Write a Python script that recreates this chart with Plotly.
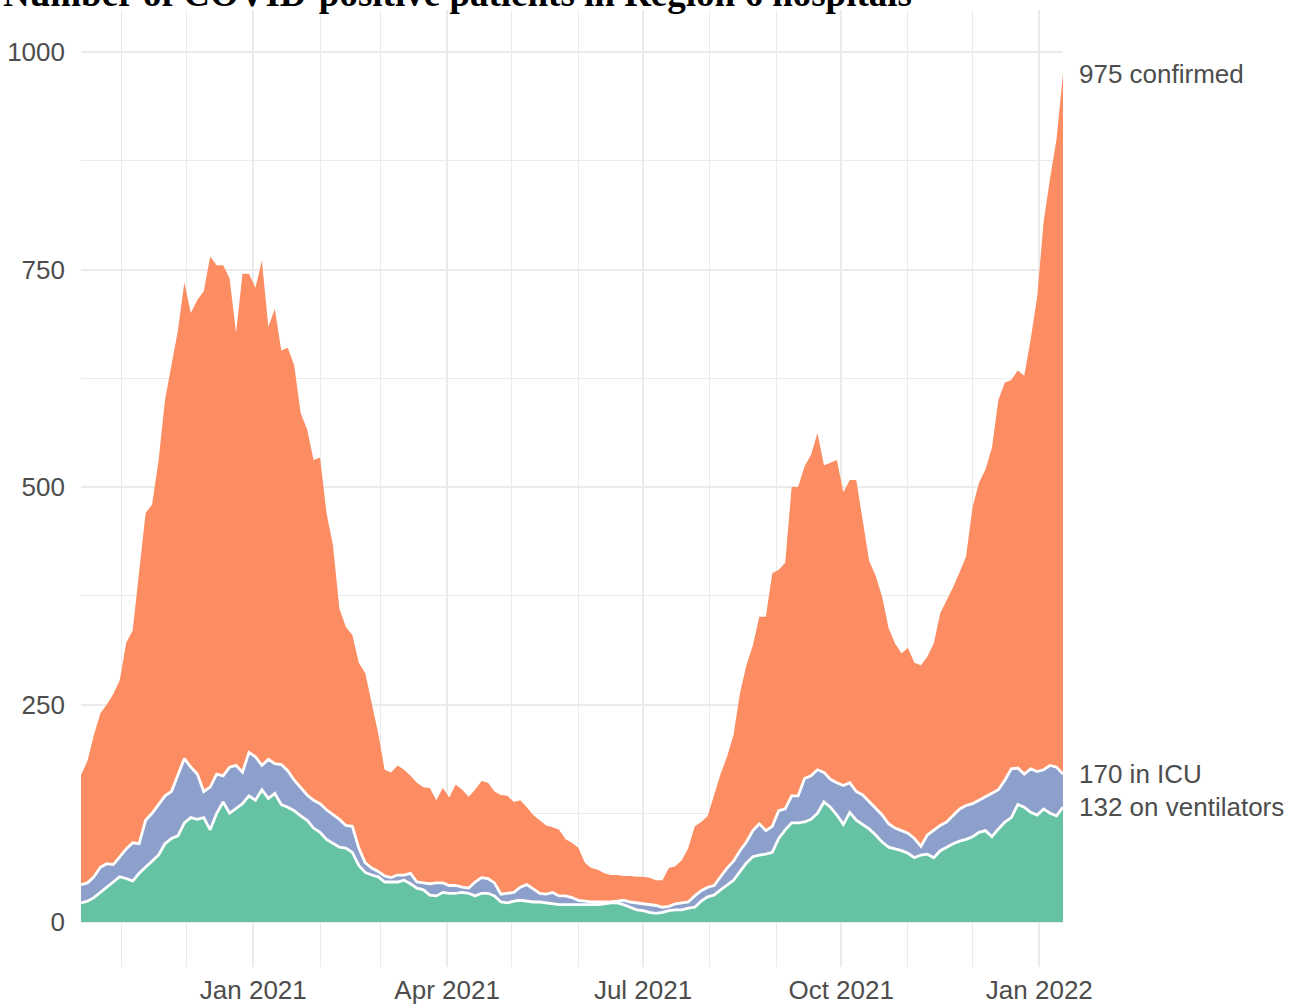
import pandas as pd
import plotly.graph_objects as go

# ---- data (every 3 days) ----
start_date = "2020-10-13"
step_days = 3

confirmed = [169, 185, 215, 240, 250, 262, 278, 321, 335, 400,
             470, 480, 530, 600, 642, 680, 735, 700, 715, 725,
             765, 755, 755, 740, 677, 745, 745, 729, 760, 684,
             705, 657, 660, 640, 585, 566, 531, 534, 470, 433,
             360, 339, 330, 298, 286, 250, 217, 175, 172, 180,
             175, 168, 160, 155, 154, 140, 154, 143, 158, 152,
             144, 152, 162, 160, 150, 146, 145, 138, 140, 132,
             123, 117, 111, 109, 106, 95, 91, 85, 68, 62,
             60, 56, 54, 54, 53, 53, 52, 52, 51, 48,
             48, 62, 64, 71, 85, 110, 115, 122, 145, 170,
             190, 215, 263, 295, 318, 351, 351, 401, 405, 413,
             500, 500, 524, 537, 562, 525, 528, 531, 494, 508,
             508, 462, 415, 398, 374, 338, 320, 309, 315, 298,
             295, 305, 320, 355, 370, 385, 402, 420, 477, 505,
             520, 545, 600, 620, 623, 634, 628, 670, 718, 805,
             855, 900, 975]

icu = [43, 45, 52, 63, 67, 66, 75, 84, 91, 90,
       117, 125, 135, 145, 150, 169, 188, 178, 170, 150,
       155, 170, 168, 178, 180, 172, 195, 190, 180, 187,
       182, 181, 174, 163, 154, 146, 140, 136, 129, 124,
       118, 111, 110, 85, 68, 62, 58, 53, 51, 54,
       54, 56, 46, 45, 44, 45, 45, 42, 42, 40,
       39, 46, 51, 50, 45, 32, 33, 34, 40, 43,
       38, 33, 32, 34, 30, 30, 28, 25, 24, 23,
       23, 23, 23, 24, 25, 23, 22, 21, 20, 19,
       17, 18, 21, 22, 23, 30, 36, 40, 42, 52,
       62, 70, 82, 92, 105, 113, 105, 110, 128, 130,
       145, 145, 165, 168, 175, 172, 164, 160, 157, 160,
       150, 146, 138, 130, 123, 113, 108, 105, 102, 96,
       87, 100, 106, 111, 115, 123, 130, 134, 136, 140,
       144, 148, 152, 163, 176, 177, 170, 176, 173, 175,
       180, 178, 170]

ventilators = [22, 24, 28, 34, 40, 47, 52, 50, 47, 56,
               63, 70, 77, 90, 96, 99, 114, 120, 118, 120,
               106, 125, 138, 125, 130, 136, 145, 140, 152, 142,
               148, 135, 132, 128, 122, 117, 108, 103, 95, 90,
               86, 85, 80, 65, 57, 54, 52, 46, 46, 46,
               48, 44, 39, 37, 31, 30, 34, 33, 33, 34,
               33, 30, 33, 33, 30, 23, 22, 24, 25, 24,
               23, 23, 22, 21, 20, 20, 20, 20, 20, 20,
               20, 21, 22, 22, 20, 17, 14, 13, 11, 10,
               11, 13, 14, 14, 16, 17, 24, 29, 31, 37,
               42, 48, 58, 68, 75, 77, 78, 80, 96, 106,
               114, 114, 115, 118, 125, 138, 132, 123, 112, 126,
               117, 112, 107, 100, 92, 86, 84, 82, 79, 74,
               77, 78, 74, 82, 86, 90, 93, 95, 98, 103,
               105, 98, 107, 115, 120, 135, 132, 126, 123, 130,
               125, 122, 132]

dates = pd.date_range(start_date, periods=len(confirmed), freq=f"{step_days}D")

title_text = "Number of COVID-positive patients in Region 6 hospitals"
label_confirmed = f"{confirmed[-1]} confirmed"
label_icu = f"{icu[-1]} in ICU"
label_vent = f"{ventilators[-1]} on ventilators"

ORANGE = "#FC8D62"
PURPLE = "#8DA0CB"
GREEN = "#66C2A5"
TEXT = "#4D4D4D"
GRID = "#EBEBEB"
FONT = "Liberation Sans, Arial, sans-serif"

fig = go.Figure()
fig.add_trace(go.Scatter(x=dates, y=confirmed, mode="lines", fill="tozeroy",
                         fillcolor=ORANGE, line=dict(color=ORANGE, width=0),
                         hoverinfo="skip", showlegend=False))
fig.add_trace(go.Scatter(x=dates, y=icu, mode="lines", fill="tozeroy",
                         fillcolor=PURPLE, line=dict(color="white", width=2.8),
                         hoverinfo="skip", showlegend=False))
fig.add_trace(go.Scatter(x=dates, y=ventilators, mode="lines", fill="tozeroy",
                         fillcolor=GREEN, line=dict(color="white", width=2.8),
                         hoverinfo="skip", showlegend=False))

fig.update_layout(
    width=1300, height=1006,
    margin=dict(l=81, r=237, t=10, b=39, autoexpand=False),
    paper_bgcolor="white", plot_bgcolor="white",
    font=dict(family=FONT, size=26, color=TEXT),
    showlegend=False,
)

fig.update_xaxes(
    range=[dates[0], dates[-1]],
    tickformat="%b %Y", dtick="M3", tick0="2021-01-01",
    showgrid=True, gridcolor=GRID, gridwidth=2,
    minor=dict(dtick="M1", tick0="2021-01-01", showgrid=True, gridcolor=GRID, gridwidth=1.3),
    ticks="", showline=False, zeroline=False, automargin=False,
    tickfont=dict(family=FONT, size=26, color=TEXT),
    ticklabelstandoff=5,
)
fig.update_yaxes(
    range=[-51.7, 1048.3],
    tickvals=[0, 250, 500, 750, 1000],
    showgrid=True, gridcolor=GRID, gridwidth=2.2,
    minor=dict(tickvals=[125, 375, 625, 875], showgrid=True, gridcolor=GRID, gridwidth=1.3),
    ticks="", showline=False, zeroline=False, automargin=False,
    tickfont=dict(family=FONT, size=26, color=TEXT),
    ticklabelstandoff=15,
)

last = dates[-1]
for txt, val in [(label_confirmed, confirmed[-1]), (label_icu, icu[-1]), (label_vent, ventilators[-1])]:
    fig.add_annotation(x=last, y=val, xref="x", yref="y", text=txt, showarrow=False,
                       xanchor="left", yanchor="middle", xshift=14,
                       font=dict(family=FONT, size=26, color=TEXT))

fig.add_annotation(x=0, y=1, xref="paper", yref="paper", text=f"<b>{title_text}</b>",
                   showarrow=False, xanchor="left", yanchor="middle", xshift=-80, yshift=17,
                   font=dict(family="Liberation Serif, Times New Roman, serif", size=37, color="black"))

fig.write_html("out.html", config=dict(displayModeBar=False),
               post_script="document.body.style.margin='0';document.body.style.overflow='hidden';")
